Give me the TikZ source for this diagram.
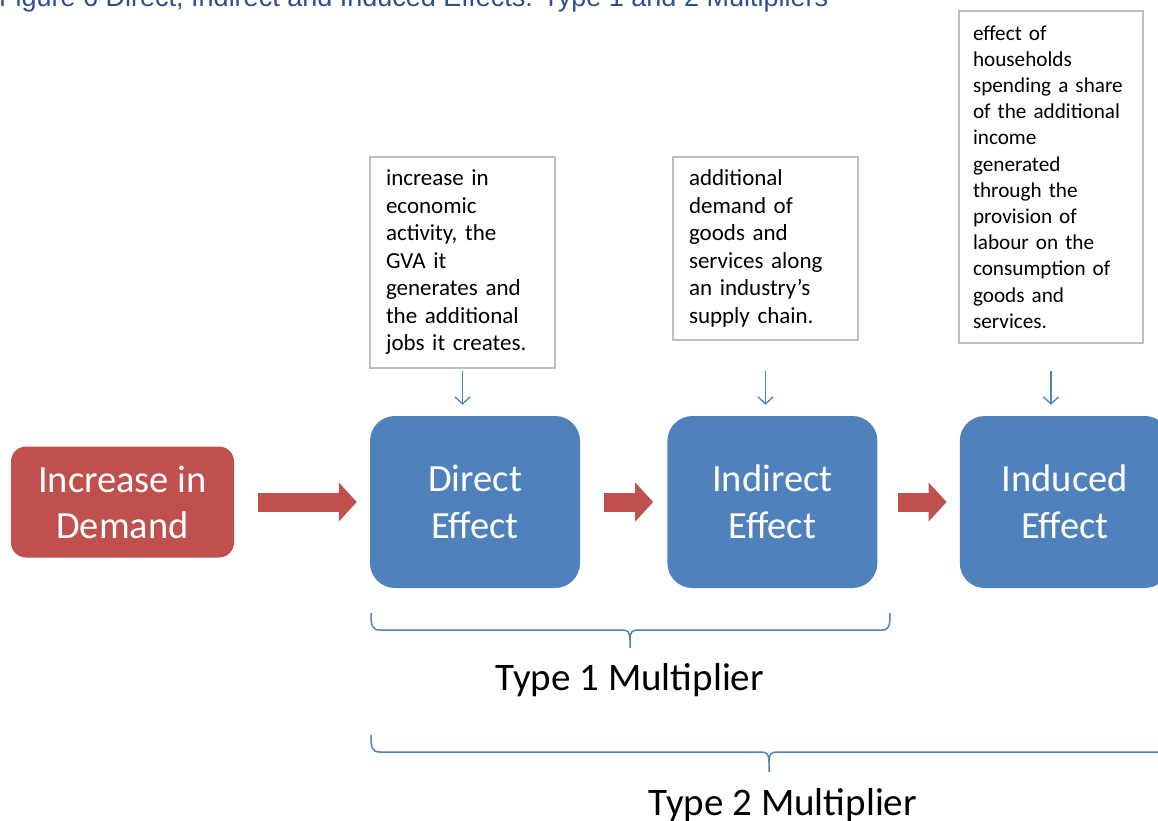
\documentclass[tikz,border=0pt]{standalone}
\usepackage{fontspec}
\setmainfont{Carlito}
\newfontfamily\titlefont{Liberation Sans}
\usepackage{tikz}
\usetikzlibrary{positioning}
\usetikzlibrary{arrows.meta}
\usepackage{xcolor}

\definecolor{demandred}{HTML}{C0504D}
\definecolor{effectblue}{HTML}{4F81BD}
\definecolor{notegray}{HTML}{BFBFBF}
\definecolor{titleblue}{HTML}{2B4F8F}

\tikzset{
  demandbox/.style={fill=demandred, rounded corners=15pt, minimum width=223pt,
    minimum height=111pt, text=white, align=center, inner sep=0pt,
    font=\fontsize{38.5}{46}\selectfont},
  effectbox/.style={fill=effectblue, rounded corners=25pt, minimum width=210pt,
    minimum height=172pt, text=white, align=center, inner sep=0pt,
    font=\fontsize{38.5}{46.5}\selectfont},
  notebox/.style={draw=notegray, line width=1.2pt, fill=white, inner xsep=16pt,
    inner ysep=0pt, align=left},
  pointer/.style={draw=effectblue, line width=1.3pt,
    -{Straight Barb[length=7pt,width=15pt]}},
  push/.style={draw=demandred, line width=19pt,
    -{Triangle[length=18pt,width=38pt]}},
  bracket/.style={draw=effectblue, line width=1.5pt},
  multlabel/.style={anchor=base, inner sep=0pt, font=\fontsize{39}{46}\selectfont}
}

\begin{document}
\begin{tikzpicture}[x=1pt,y=-1pt]
    \useasboundingbox (0,0) rectangle (1158,820);
    \clip (0,0) rectangle (1158,820);

    % Title (cut at the top)
    \node[anchor=base west, inner sep=0pt, text=titleblue,
      font=\titlefont\fontsize{27}{32}\selectfont] (title) at (-1,6)
      {Figure 6 Direct, Indirect and Induced Effects: Type 1 and 2 Multipliers};

    % Main chain
    \node[demandbox] (demand) at (122.5,502) {Increase in\\Demand};
    \node[effectbox] (direct) at (475,502) {Direct\\Effect};
    \node[effectbox, right=87pt of direct] (indirect) {Indirect\\Effect};
    \node[effectbox, right=82pt of indirect] (induced) {Induced\\Effect};

    \draw[push, shorten <=24pt, shorten >=13pt] (demand) -- (direct);
    \draw[push, shorten <=24pt, shorten >=14pt] (direct) -- (indirect);
    \draw[push, shorten <=20pt, shorten >=13pt] (indirect) -- (induced);

    % Explanations
    \node[notebox, text width=153pt, minimum height=211pt,
      font=\fontsize{23}{27.5}\selectfont] (note1) at (462.5,262.5)
      {increase in\\economic\\activity, the\\GVA it\\generates and\\the additional\\jobs it creates.};
    \node[notebox, text width=153pt, minimum height=183pt,
      font=\fontsize{23}{27.5}\selectfont] (note2) at (765.5,248.5)
      {additional\\demand of\\goods and\\services along\\an industry’s\\supply chain.};
    \node[notebox, inner xsep=14pt, text width=156pt, minimum height=332pt,
      font=\fontsize{21.2}{26.2}\selectfont] (note3) at (1051,177)
      {effect of\\households\\spending a share\\of the additional\\income\\generated\\through the\\provision of\\labour on the\\consumption of\\goods and\\services.};

    \draw[pointer, shorten <=2pt, shorten >=11pt] (note1.south) -- (note1.south |- direct.north);
    \draw[pointer, shorten <=2pt, shorten >=11pt] (note2.south |- note1.south) -- (note2.south |- indirect.north);
    \draw[pointer, shorten <=2pt, shorten >=11pt] (note3.south |- note1.south) -- (note3.south |- induced.north);

    % Type 1 brace
    \draw[bracket] (371,613) .. controls (371,626) and (372,630) .. (380,630) -- (622,630)
      .. controls (628,630) and (630,632) .. (630,640) -- (630,648);
    \draw[bracket] (630,640) .. controls (630,632) and (632,630) .. (638,630) -- (882,630)
      .. controls (889,630) and (890,626) .. (890,613);
    \node[multlabel] (type1) at (630,690) {Type 1 Multiplier};

    % Type 2 brace
    \draw[bracket] (371,735) .. controls (371,748) and (372,752) .. (380,752) -- (761,752)
      .. controls (767,752) and (769,754) .. (769,762) -- (769,772);
    \draw[bracket] (769,762) .. controls (769,754) and (771,752) .. (777,752) -- (1172,752)
      .. controls (1179,752) and (1180,748) .. (1180,735);
    \node[multlabel] (type2) at (783,815) {Type 2 Multiplier};
\end{tikzpicture}
\end{document}
